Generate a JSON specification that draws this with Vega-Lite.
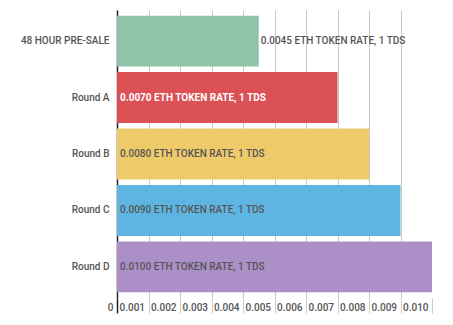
{
  "$schema": "https://vega.github.io/schema/vega-lite/v6.json",
  "width": 315,
  "height": 288,
  "autosize": {"type": "none"},
  "padding": {"left": 117, "top": 10, "right": 21, "bottom": 27},
  "background": "white",
  "config": {"view": {"stroke": null}, "font": "Roboto"},
  "data": {
    "values": [
      {"round": "48 HOUR PRE-SALE", "rate": 0.0045, "label": "0.0045 ETH TOKEN RATE, 1 TDS"},
      {"round": "Round A", "rate": 0.007, "label": "0.0070 ETH TOKEN RATE, 1 TDS"},
      {"round": "Round B", "rate": 0.008, "label": "0.0080 ETH TOKEN RATE, 1 TDS"},
      {"round": "Round C", "rate": 0.009, "label": "0.0090 ETH TOKEN RATE, 1 TDS"},
      {"round": "Round D", "rate": 0.01, "label": "0.0100 ETH TOKEN RATE, 1 TDS"}
    ]
  },
  "encoding": {
    "y": {
      "field": "round",
      "type": "nominal",
      "sort": null,
      "scale": {"paddingInner": 0.1, "paddingOuter": 0.1},
      "axis": {
        "title": null,
        "ticks": false,
        "labelPadding": 8,
        "labelFontSize": 10,
        "labelFontWeight": 500,
        "labelColor": "#555555",
        "domainColor": "#222222",
        "domainWidth": 1.5,
        "grid": false
      }
    },
    "x": {
      "field": "rate",
      "type": "quantitative",
      "scale": {"domain": [0, 0.01], "nice": false},
      "axis": {
        "title": null,
        "values": [0, 0.001, 0.002, 0.003, 0.004, 0.005, 0.006, 0.007, 0.008, 0.009, 0.01],
        "labelExpr": "datum.value == 0 ? '0' : format(datum.value, '.3f')",
        "labelAlign": "right",
        "labelOffset": -4,
        "labelFlush": false,
        "labelOverlap": false,
        "labelBaseline": "top",
        "labelPadding": -11,
        "labelFontSize": 10,
        "labelFontWeight": 500,
        "labelColor": "#555555",
        "tickSize": 15,
        "tickColor": {"condition": {"test": "datum.value == 0", "value": "#222222"}, "value": "#cccccc"},
        "tickWidth": {"condition": {"test": "datum.value == 0", "value": 1.5}, "value": 1},
        "domain": false,
        "grid": true,
        "gridColor": {"condition": {"test": "datum.value > 0.0099", "value": "transparent"}, "value": "#c8c8c8"},
        "gridWidth": 1
      }
    }
  },
  "layer": [
    {
      "mark": {"type": "bar"},
      "encoding": {
        "color": {
          "field": "round",
          "type": "nominal",
          "sort": null,
          "legend": null,
          "scale": {
            "domain": ["48 HOUR PRE-SALE", "Round A", "Round B", "Round C", "Round D"],
            "range": ["#8fc4a9", "#db5155", "#efca6b", "#5eb5e2", "#ac8fc6"]
          }
        }
      }
    },
    {
      "transform": [{"filter": "datum.rate < 0.005"}],
      "mark": {"type": "text", "align": "left", "dx": 2, "fontSize": 10, "fontWeight": 500, "color": "#555555"},
      "encoding": {
        "text": {"field": "label"}
      }
    },
    {
      "transform": [{"filter": "datum.rate >= 0.005 && datum.round != 'Round A'"}],
      "mark": {"type": "text", "align": "left", "dx": 3, "fontSize": 10, "fontWeight": 500, "color": "#555555"},
      "encoding": {
        "x": {"datum": 0, "type": "quantitative"},
        "text": {"field": "label"}
      }
    },
    {
      "transform": [{"filter": "datum.round == 'Round A'"}],
      "mark": {"type": "text", "align": "left", "dx": 3, "fontSize": 10, "fontWeight": "bold", "color": "#ffffff"},
      "encoding": {
        "x": {"datum": 0, "type": "quantitative"},
        "text": {"field": "label"}
      }
    }
  ]
}
